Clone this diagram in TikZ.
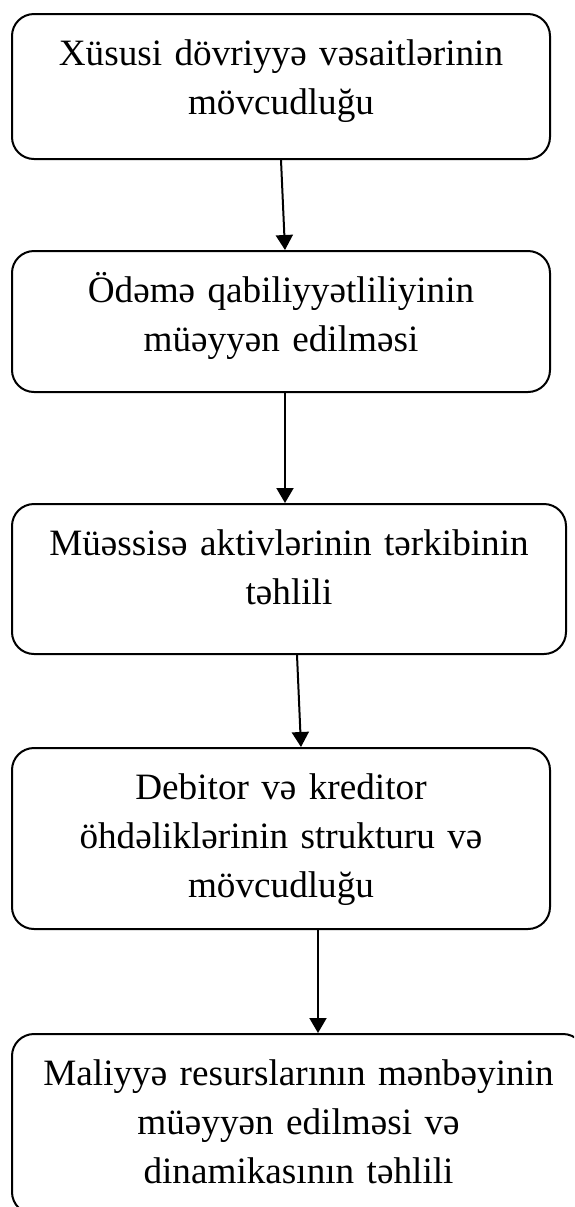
\documentclass[tikz,border=0pt]{standalone}
\usepackage{fontspec}
\setmainfont{Liberation Serif}
\usetikzlibrary{arrows.meta}
\usetikzlibrary{positioning}

\begin{document}
\begin{tikzpicture}[x=0.5pt,y=-0.5pt,
  box/.style={draw=black,line width=1pt,rounded corners=11pt,anchor=north,align=center,inner xsep=0pt,inner ysep=0pt,text height=25.5pt,font=\fontsize{18.6}{24.5}\selectfont},
  arr/.style={draw=black,line width=1pt,-{Triangle[width=8.5pt,length=7.5pt]}}]
\useasboundingbox (0,0) rectangle (574,1207);
\clip (0,0) rectangle (574,1207);

\node[box,text width=269pt,text depth=47pt] (B1) at (281,13) {Xüsusi dövriyyə vəsaitlərinin\\mövcudluğu};
\node[box,text width=269pt,text depth=45pt] (B2) at (281,250) {Ödəmə qabiliyyətliliyinin\\müəyyən edilməsi};
\node[box,text width=277pt,text depth=49.5pt] (B3) at (289,503) {Müəssisə aktivlərinin tərkibinin\\təhlili};
\node[box,text width=269pt,text depth=65pt] (B4) at (281,747) {Debitor və kreditor\\öhdəliklərinin strukturu və\\mövcudluğu};
\node[box,text width=286.5pt,text depth=64.5pt] (B5) at (298.5,1033) {Maliyyə resurslarının mənbəyinin\\müəyyən edilməsi və\\dinamikasının təhlili};

\draw[arr] (B1.south) -- ([xshift=2pt]B2.north);
\draw[arr] ([xshift=2pt]B2.south) -- ([xshift=-2pt]B3.north);
\draw[arr] ([xshift=4pt]B3.south) -- ([xshift=10pt]B4.north);
\draw[arr] ([xshift=18.5pt]B4.south) -- ([xshift=9.75pt]B5.north);

\end{tikzpicture}
\end{document}
